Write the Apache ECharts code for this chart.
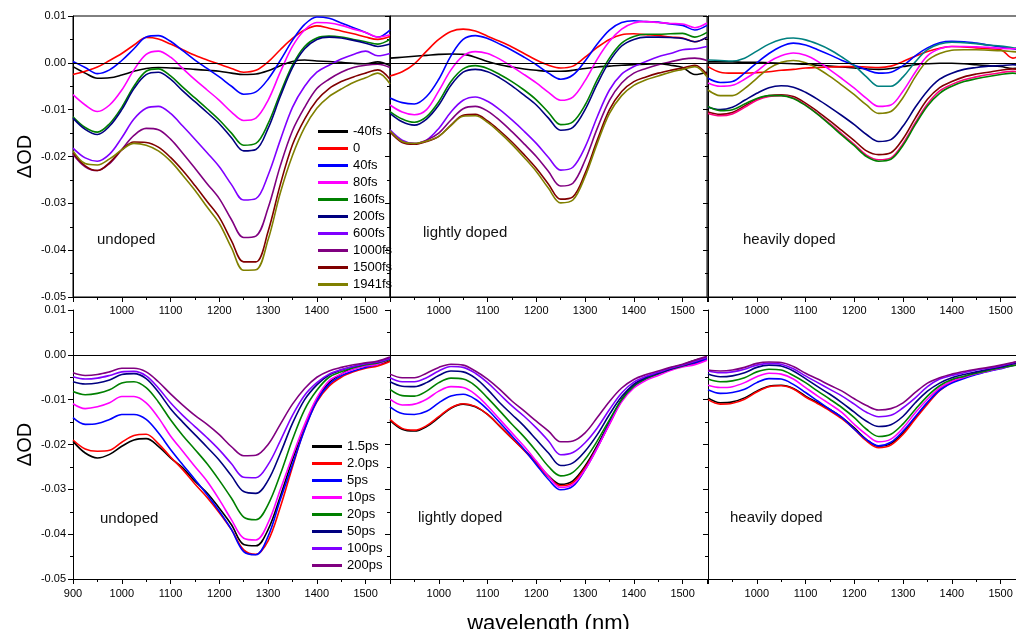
<!DOCTYPE html>
<html>
<head>
<meta charset="utf-8">
<script src="https://cdn.jsdelivr.net/npm/echarts@6/dist/echarts.min.js"></script>
<style>
  html, body { margin: 0; padding: 0; background: #fff; }
  #chart { width: 1016px; height: 629px; }
</style>
</head>
<body>
<div id="chart"></div>
<script>
// wavelength grid (nm), values in mOD (1e-3 OD)
const wavelengths = [900, 925, 950, 975, 1000, 1025, 1050, 1075, 1100, 1125, 1150, 1175, 1200, 1225,
  1250, 1275, 1300, 1325, 1350, 1375, 1400, 1425, 1450, 1475, 1500, 1525, 1550];

const fsDelays = ['-40fs', '0', '40fs', '80fs', '160fs', '200fs', '600fs', '1000fs', '1500fs', '1941fs'];
const psDelays = ['1.5ps', '2.0ps', '5ps', '10ps', '20ps', '50ps', '100ps', '200ps'];

const fsColors = ['#000000', '#ff0000', '#0000ff', '#ff00ff', '#008000', '#000080', '#8000ff', '#800080', '#800000', '#808000'];
const fsHeavyColors = ['#000000', '#ff0000', '#0000ff', '#008080', '#ff00ff', '#808000', '#000080', '#800000', '#ff0080', '#008000'];
const psColors = ['#000000', '#ff0000', '#0000ff', '#ff00ff', '#008000', '#000080', '#8000ff', '#800080'];

// top row, femtosecond delays
const fsUndoped = [
  [-0.8,-2.2,-3.3,-3.2,-2.6,-1.8,-1.2,-1.0,-1.1,-1.2,-1.4,-1.6,-1.8,-2.2,-2.5,-2.4,-1.7,-0.6,0.3,0.6,0.4,0.3,0.1,-0.1,-0.2,0.2,-0.6],
  [-2.5,-1.8,-0.9,0.5,2.0,3.8,5.4,5.1,4.0,2.8,1.6,0.6,-0.3,-1.2,-2.0,-1.6,0.2,2.8,5.2,7.0,7.9,7.4,6.8,6.2,5.5,5.0,5.6],
  [0.3,-1.0,-2.3,-1.5,0.5,3.0,5.5,5.8,4.6,2.6,0.6,-1.2,-3.0,-5.0,-6.7,-6.2,-3.5,0.5,4.8,8.2,9.8,9.5,8.5,7.5,6.5,5.5,7.0],
  [-6.8,-9.0,-10.4,-9.0,-5.8,-1.5,1.8,2.5,1.2,-1.2,-3.6,-5.8,-8.0,-10.5,-12.3,-11.8,-8.0,-2.0,3.5,7.0,8.6,8.5,8.0,7.2,6.5,5.5,6.0],
  [-11.5,-13.8,-14.8,-13.0,-9.5,-5.0,-1.8,-1.3,-2.8,-5.2,-7.5,-9.8,-12.2,-15.0,-17.6,-17.2,-13.0,-6.5,-0.5,3.5,5.3,5.7,5.5,5.0,4.5,4.0,5.0],
  [-11.8,-14.2,-15.3,-13.5,-10.0,-5.5,-2.5,-2.0,-3.5,-6.0,-8.3,-10.6,-13.0,-16.0,-18.8,-18.5,-14.0,-7.2,-1.0,3.0,5.0,5.5,5.3,4.8,4.2,3.5,4.0],
  [-18.2,-20.3,-21.0,-19.5,-16.0,-12.0,-9.7,-9.3,-10.8,-13.5,-16.3,-19.2,-22.2,-26.0,-29.3,-29.0,-24.0,-16.5,-9.5,-5.0,-2.0,-0.5,0.8,1.8,2.5,1.5,2.0],
  [-19.5,-22.2,-23.0,-21.5,-18.5,-15.5,-14.0,-14.3,-16.3,-19.3,-22.5,-25.8,-29.0,-33.5,-37.3,-37.0,-31.0,-22.0,-14.5,-9.5,-5.5,-3.5,-2.0,-1.0,-0.5,-0.3,-1.0],
  [-19.2,-22.0,-23.0,-21.3,-18.6,-16.9,-17.0,-18.0,-20.2,-23.0,-26.2,-29.6,-33.0,-38.0,-42.5,-42.5,-36.0,-26.0,-17.5,-12.0,-8.0,-5.5,-4.0,-3.0,-2.2,-1.5,-3.5],
  [-18.8,-21.5,-21.8,-20.5,-18.6,-17.2,-17.6,-18.8,-21.0,-24.0,-27.2,-30.8,-34.3,-39.5,-44.3,-44.2,-37.8,-27.8,-19.8,-13.8,-9.7,-7.2,-5.6,-4.2,-3.2,-2.2,-4.5]
];
const fsLight = [
  [1.0,1.2,1.4,1.6,1.8,1.9,1.8,1.2,0.3,-0.4,-0.9,-1.3,-1.6,-1.8,-1.8,-1.6,-1.2,-0.9,-0.7,-0.5,-0.4,-0.3,-0.2,-0.5,-1.0,-2.5,-2.0],
  [-2.8,-1.9,-0.2,2.5,5.0,6.7,7.2,6.8,5.7,4.6,3.4,2.0,0.6,-0.5,-1.1,-0.7,1.2,3.3,5.0,6.0,6.2,6.0,5.8,5.5,5.3,4.5,5.5],
  [-7.5,-8.5,-8.8,-7.2,-3.5,1.5,5.0,5.8,5.2,4.0,2.7,1.2,-0.4,-2.2,-3.5,-2.6,0.4,4.0,7.0,8.6,9.0,8.8,8.7,8.3,8.0,7.0,8.0],
  [-9.0,-10.5,-11.1,-10.0,-6.0,-1.5,1.5,2.4,2.0,0.8,-0.8,-2.5,-4.3,-6.3,-8.0,-7.3,-3.8,0.8,4.6,7.2,8.5,8.8,8.6,8.4,8.3,7.5,8.5],
  [-10.4,-12.0,-12.7,-11.5,-8.3,-4.0,-1.3,-0.6,-1.2,-2.5,-4.0,-5.8,-7.9,-10.6,-13.2,-12.6,-9.0,-3.6,1.0,4.2,5.6,6.1,6.1,6.2,6.3,5.5,6.5],
  [-10.8,-12.6,-13.3,-12.0,-9.0,-4.8,-2.0,-1.4,-1.9,-3.2,-4.9,-6.9,-9.0,-11.8,-14.4,-13.8,-10.0,-4.5,0.3,3.6,5.0,5.5,5.5,5.4,5.2,4.5,5.5],
  [-14.3,-16.5,-17.2,-16.5,-14.0,-10.5,-8.0,-7.3,-8.2,-10.0,-12.2,-14.6,-17.2,-20.2,-22.9,-22.3,-18.0,-11.5,-5.8,-2.4,-0.8,0.3,1.3,2.0,2.8,3.0,3.5],
  [-14.7,-16.8,-17.3,-16.5,-15.0,-12.2,-9.8,-9.3,-10.3,-12.3,-14.7,-17.3,-20.0,-23.2,-26.3,-25.7,-20.8,-14.0,-8.0,-4.3,-2.2,-1.2,-0.4,0.2,0.8,1.0,0.5],
  [-14.7,-17.0,-17.4,-16.8,-15.7,-13.3,-11.2,-11.0,-12.4,-14.5,-16.9,-19.6,-22.5,-25.9,-29.1,-28.6,-23.6,-16.5,-10.0,-6.1,-4.0,-3.0,-2.2,-1.6,-1.1,-0.5,-2.5],
  [-14.5,-16.8,-17.2,-16.7,-15.7,-13.4,-11.4,-11.3,-12.7,-14.9,-17.4,-20.2,-23.2,-26.8,-29.9,-29.3,-24.3,-17.2,-10.8,-7.0,-4.8,-3.6,-2.8,-2.0,-1.4,-0.8,-3.0]
];
const fsHeavy = [
  [0.2,0.2,0.2,0.1,0.1,0.0,-0.1,-0.2,-0.3,-0.5,-0.7,-0.9,-1.1,-1.3,-1.4,-1.2,-0.8,-0.4,-0.2,-0.1,-0.1,-0.2,-0.4,-0.6,-0.8,-1.2,-1.0],
  [-0.8,-2.0,-2.2,-2.2,-2.1,-1.9,-1.6,-1.4,-1.1,-1.0,-0.9,-0.8,-0.8,-0.9,-1.0,-0.7,0.3,1.4,2.4,3.1,3.5,3.4,3.2,3.0,2.8,1.0,2.5],
  [-3.3,-4.2,-4.0,-2.2,0.0,2.0,3.5,4.2,3.8,2.8,1.7,0.5,-0.5,-1.5,-2.2,-2.0,-0.6,1.5,3.2,4.3,4.6,4.5,4.2,3.8,3.4,3.0,2.5],
  [0.6,0.5,0.4,1.0,2.5,4.0,5.0,5.3,4.9,4.0,2.8,1.2,-0.6,-3.0,-5.0,-5.0,-3.0,0.2,2.8,4.0,4.4,4.3,4.1,3.8,3.6,3.2,3.0],
  [-4.3,-5.0,-4.8,-3.5,-1.8,0.2,1.5,2.1,1.6,0.3,-1.5,-3.4,-5.4,-7.6,-9.3,-9.0,-6.0,-2.0,1.5,3.0,3.5,3.5,3.4,3.3,3.1,3.0,3.0],
  [-5.8,-7.0,-7.0,-5.5,-3.3,-1.2,0.1,0.5,0.0,-1.2,-2.9,-4.8,-6.8,-9.0,-10.8,-10.4,-7.4,-3.0,0.5,2.0,2.7,2.8,2.8,2.7,2.6,2.4,2.2],
  [-9.5,-10.0,-9.5,-8.0,-6.5,-5.3,-4.9,-5.2,-6.3,-7.8,-9.5,-11.3,-13.2,-15.3,-16.8,-16.4,-13.5,-9.5,-6.0,-3.5,-2.2,-1.4,-1.0,-0.7,-0.6,-0.4,-0.8],
  [-10.5,-11.0,-10.6,-9.2,-7.8,-7.0,-6.8,-7.2,-8.6,-10.4,-12.4,-14.5,-16.6,-18.8,-19.6,-19.2,-16.2,-11.8,-7.8,-5.3,-4.0,-3.0,-2.4,-2.0,-1.6,-1.3,-1.8],
  [-10.8,-11.3,-10.9,-9.5,-8.0,-7.2,-7.0,-7.5,-9.0,-10.9,-13.0,-15.2,-17.4,-19.7,-20.7,-20.3,-17.2,-12.8,-8.8,-6.0,-4.6,-3.6,-3.0,-2.5,-2.1,-1.8,-2.5],
  [-9.3,-10.2,-10.0,-8.8,-7.6,-7.0,-7.0,-7.6,-9.1,-11.0,-13.2,-15.5,-17.7,-20.0,-21.0,-20.6,-17.6,-13.2,-9.2,-6.5,-5.0,-4.0,-3.4,-2.9,-2.5,-2.2,-2.8]
];

// bottom row, picosecond delays
const psUndoped = [
  [-19.3,-21.9,-23.0,-22.2,-20.4,-19.0,-18.7,-20.4,-23.0,-25.2,-28.2,-30.8,-34.2,-37.9,-42.3,-42.6,-39.0,-31.6,-23.4,-16.3,-9.9,-6.2,-4.3,-2.8,-2.5,-2.1,-1.3],
  [-19.0,-21.0,-21.5,-21.3,-19.5,-18.0,-17.7,-19.8,-22.8,-25.6,-28.8,-31.8,-35.2,-39.0,-43.5,-44.5,-41.5,-34.0,-25.0,-16.5,-10.5,-7.0,-5.0,-3.8,-3.0,-2.5,-1.5],
  [-14.0,-15.5,-15.3,-14.4,-13.3,-13.3,-14.4,-17.4,-21.1,-24.5,-27.8,-31.2,-34.9,-39.0,-43.9,-44.6,-40.5,-32.3,-24.5,-16.7,-10.3,-6.6,-4.7,-3.6,-2.8,-2.1,-0.6],
  [-10.9,-12.0,-11.6,-10.7,-9.3,-9.3,-10.7,-14.0,-18.1,-21.5,-24.9,-28.2,-32.3,-36.8,-40.9,-41.3,-37.5,-30.1,-22.6,-15.5,-9.6,-5.8,-4.3,-3.2,-2.5,-2.1,-0.9],
  [-8.2,-8.9,-8.6,-7.8,-6.3,-6.0,-7.3,-10.5,-14.5,-18.0,-21.1,-24.3,-28.0,-32.0,-36.2,-36.8,-33.4,-26.7,-18.9,-12.2,-7.9,-5.0,-3.8,-2.9,-2.2,-1.8,-1.0],
  [-6.0,-6.5,-6.3,-5.6,-4.4,-4.2,-5.3,-8.3,-12.0,-15.0,-17.8,-20.6,-23.5,-27.0,-30.5,-30.9,-28.0,-22.0,-15.3,-10.0,-6.7,-4.5,-3.4,-2.6,-2.0,-1.6,-0.8],
  [-4.9,-5.4,-5.2,-4.6,-3.8,-3.7,-4.7,-7.4,-10.7,-13.5,-16.0,-18.5,-21.2,-24.3,-27.3,-27.4,-24.5,-19.2,-13.5,-9.0,-6.2,-4.3,-3.3,-2.6,-2.0,-1.6,-0.8],
  [-4.0,-4.6,-4.4,-3.8,-3.0,-3.0,-3.8,-6.0,-8.7,-11.2,-13.5,-15.5,-17.8,-20.5,-22.5,-22.4,-20.0,-15.5,-11.0,-7.5,-5.0,-3.6,-2.8,-2.2,-1.8,-1.4,-0.5]
];
const psLight = [
  [-14.6,-16.6,-17.0,-16.0,-14.0,-11.9,-11.0,-11.6,-13.3,-15.9,-18.6,-21.2,-24.0,-27.0,-28.9,-28.1,-24.8,-20.2,-15.0,-9.9,-6.6,-5.0,-4.0,-2.9,-2.2,-1.2,-0.8],
  [-14.4,-16.4,-16.8,-15.8,-13.8,-11.8,-10.9,-11.5,-13.3,-15.9,-18.6,-21.3,-24.2,-27.2,-29.2,-28.5,-25.2,-20.6,-15.4,-10.2,-6.9,-5.3,-4.2,-3.1,-2.5,-2.0,-1.0],
  [-11.6,-13.1,-13.3,-12.6,-10.7,-9.2,-8.8,-9.9,-12.2,-15.1,-18.1,-21.1,-24.5,-27.8,-30.1,-29.3,-25.6,-20.7,-15.3,-10.2,-7.0,-5.3,-4.2,-3.2,-2.5,-1.8,-1.0],
  [-9.9,-11.2,-11.0,-9.9,-8.1,-7.1,-7.3,-8.8,-11.4,-14.4,-17.4,-20.4,-23.7,-27.1,-29.6,-28.9,-25.6,-20.8,-15.5,-10.5,-7.4,-5.7,-4.6,-3.5,-2.7,-2.2,-1.2],
  [-7.7,-9.1,-9.2,-8.1,-6.2,-5.2,-5.4,-6.9,-9.6,-12.5,-15.5,-18.3,-21.5,-24.9,-27.0,-26.2,-23.3,-19.2,-14.5,-10.0,-7.0,-5.3,-4.2,-3.2,-2.5,-1.5,-0.5],
  [-6.0,-7.0,-7.1,-6.2,-4.6,-3.6,-3.8,-5.2,-7.7,-10.7,-13.3,-15.9,-18.9,-21.9,-24.7,-24.1,-21.5,-17.8,-13.3,-9.3,-6.6,-5.1,-4.1,-3.2,-2.4,-1.6,-0.6],
  [-5.1,-6.0,-6.0,-5.1,-3.6,-2.6,-2.8,-4.1,-6.2,-8.8,-11.4,-13.7,-16.3,-19.2,-22.3,-21.8,-19.6,-16.3,-12.2,-8.5,-6.1,-4.8,-3.9,-3.0,-2.3,-1.5,-0.6],
  [-4.3,-5.1,-5.1,-4.1,-2.8,-2.1,-2.3,-3.6,-5.4,-7.7,-10.3,-12.5,-14.8,-17.0,-19.4,-19.2,-17.4,-14.0,-10.4,-7.4,-5.5,-4.4,-3.6,-2.8,-2.1,-1.2,-0.3]
];
const psHeavy = [
  [-9.6,-10.7,-10.5,-9.6,-8.1,-7.0,-6.8,-7.5,-9.2,-10.7,-12.2,-14.0,-16.3,-18.9,-20.4,-19.8,-17.4,-14.0,-10.7,-7.7,-5.8,-4.9,-4.0,-3.4,-2.8,-2.1,-1.8],
  [-10.0,-11.0,-10.8,-9.9,-8.3,-7.1,-6.9,-7.6,-9.4,-10.9,-12.5,-14.3,-16.6,-19.2,-20.7,-20.1,-17.7,-14.3,-11.0,-8.0,-6.1,-5.1,-4.2,-3.6,-3.0,-2.3,-2.0],
  [-7.8,-8.6,-8.4,-7.7,-6.2,-5.3,-5.4,-6.6,-8.4,-10.3,-12.2,-14.0,-16.6,-18.9,-20.3,-19.5,-17.0,-13.8,-10.6,-7.9,-6.3,-5.3,-4.4,-3.7,-3.1,-2.4,-1.5],
  [-6.8,-7.3,-7.1,-6.2,-4.9,-4.1,-4.3,-5.4,-7.3,-9.2,-11.0,-12.9,-15.5,-17.8,-19.4,-18.8,-16.3,-12.9,-9.9,-7.4,-5.9,-5.0,-4.2,-3.6,-3.0,-2.3,-1.8],
  [-5.4,-6.0,-5.8,-5.1,-3.8,-3.2,-3.4,-4.6,-6.2,-8.1,-9.9,-11.8,-14.0,-16.6,-18.2,-17.7,-15.4,-12.2,-9.2,-6.9,-5.5,-4.8,-4.1,-3.5,-2.9,-2.4,-2.0],
  [-4.3,-4.9,-4.7,-4.0,-2.8,-2.3,-2.5,-3.6,-5.3,-7.1,-8.8,-10.7,-12.8,-14.8,-16.0,-15.6,-13.7,-10.7,-8.1,-6.3,-5.1,-4.4,-3.8,-3.2,-2.7,-2.0,-1.6],
  [-3.6,-4.0,-3.8,-3.2,-2.3,-1.9,-2.1,-3.1,-4.7,-6.2,-7.7,-9.2,-11.0,-12.8,-13.8,-13.5,-11.8,-9.6,-7.1,-5.4,-4.6,-4.0,-3.4,-3.0,-2.5,-1.8,-1.2],
  [-3.4,-3.6,-3.4,-2.8,-1.9,-1.6,-1.7,-2.6,-4.1,-5.4,-6.8,-8.1,-9.8,-11.3,-12.3,-12.0,-10.7,-8.4,-6.3,-5.1,-4.3,-3.7,-3.2,-2.8,-2.3,-1.7,-1.2]
];

const FONT = '"Liberation Sans", Arial, sans-serif';

const panels = [
  { data: fsUndoped, names: fsDelays, colors: fsColors },
  { data: fsLight, names: fsDelays, colors: fsColors },
  { data: fsHeavy, names: fsDelays, colors: fsHeavyColors },
  { data: psUndoped, names: psDelays, colors: psColors },
  { data: psLight, names: psDelays, colors: psColors },
  { data: psHeavy, names: psDelays, colors: psColors }
];

const colLeft = [73, 390, 708];
const rows = [{ top: 16, height: 281 }, { top: 310, height: 269 }];

const grids = [], xAxes = [], yAxes = [], series = [];
panels.forEach(function (p, i) {
  const row = Math.floor(i / 3), col = i % 3;
  grids.push({
    left: colLeft[col], top: rows[row].top, width: 317, height: rows[row].height,
    show: row === 0, borderColor: '#000', borderWidth: 1,
    containLabel: false, outerBoundsMode: 'none'
  });
  xAxes.push({
    type: 'value', gridIndex: i, min: 900, max: 1550, interval: 100,
    axisLine: { onZero: false, lineStyle: { color: '#000', width: 1 } },
    axisTick: { length: 5, lineStyle: { color: '#000' } },
    minorTick: { show: true, splitNumber: 2, length: 3, lineStyle: { color: '#000' } },
    splitLine: { show: false },
    axisLabel: {
      fontSize: 11, color: '#000', fontFamily: FONT, margin: row === 0 ? 8 : 9,
      showMaxLabel: false,
      formatter: function (v) { return (v % 100 === 0 && (v > 900 || i === 3)) ? String(v) : ''; }
    },
    name: i === 4 ? 'wavelength (nm)' : '',
    nameLocation: 'middle', nameGap: 34,
    nameTextStyle: { fontSize: 22, color: '#000', fontFamily: FONT }
  });
  yAxes.push({
    type: 'value', gridIndex: i, min: -50, max: 10, interval: 10,
    axisLine: { show: true, onZero: false, lineStyle: { color: '#000', width: 1 } },
    axisTick: { show: true, length: 5, lineStyle: { color: '#000' } },
    minorTick: { show: true, splitNumber: 2, length: 3, lineStyle: { color: '#000' } },
    splitLine: { show: false },
    axisLabel: {
      show: col === 0, fontSize: 11, color: '#000', fontFamily: FONT, margin: 7,
      formatter: function (v) { return (v / 1000).toFixed(2); }
    },
    name: col === 0 ? 'ΔOD' : '',
    nameLocation: 'middle', nameGap: 38,
    nameTextStyle: { fontSize: 20, color: '#000', fontFamily: FONT }
  });
  p.data.forEach(function (vals, k) {
    const s = {
      type: 'line', name: p.names[k], xAxisIndex: i, yAxisIndex: i,
      data: wavelengths.map(function (w, j) { return [w, vals[j]]; }),
      showSymbol: false, smooth: 0.35,
      lineStyle: { width: 1.6, color: p.colors[k] },
      itemStyle: { color: p.colors[k] },
      emphasis: { disabled: true }
    };
    if (k === 0) {
      s.markLine = {
        silent: true, symbol: 'none', label: { show: false },
        lineStyle: { color: '#000', width: 1, type: 'solid' },
        data: [{ yAxis: 0 }]
      };
    }
    series.push(s);
  });
});

const labelStyle = { fontSize: 15, fontFamily: FONT, fill: '#111' };
const panelLabels = [
  { text: 'undoped', left: 97, top: 232 },
  { text: 'lightly doped', left: 423, top: 225 },
  { text: 'heavily doped', left: 743, top: 232 },
  { text: 'undoped', left: 100, top: 511 },
  { text: 'lightly doped', left: 418, top: 510 },
  { text: 'heavily doped', left: 730, top: 510 }
];

const chart = echarts.init(document.getElementById('chart'), null, { renderer: 'canvas' });
chart.setOption({
  animation: false,
  backgroundColor: '#fff',
  grid: grids,
  xAxis: xAxes,
  yAxis: yAxes,
  legend: [
    {
      data: fsDelays, left: 318, top: 123, orient: 'vertical', icon: 'rect',
      itemWidth: 30, itemHeight: 3, itemGap: 0, padding: 0, selectedMode: false,
      textStyle: { fontSize: 13, lineHeight: 17, color: '#000', fontFamily: FONT }
    },
    {
      data: psDelays, left: 312, top: 438, orient: 'vertical', icon: 'rect',
      itemWidth: 30, itemHeight: 3, itemGap: 0, padding: 0, selectedMode: false,
      textStyle: { fontSize: 13, lineHeight: 17, color: '#000', fontFamily: FONT }
    }
  ],
  graphic: panelLabels.map(function (l) {
    return { type: 'text', left: l.left, top: l.top, style: Object.assign({ text: l.text }, labelStyle) };
  }),
  series: series
});
</script>
</body>
</html>
